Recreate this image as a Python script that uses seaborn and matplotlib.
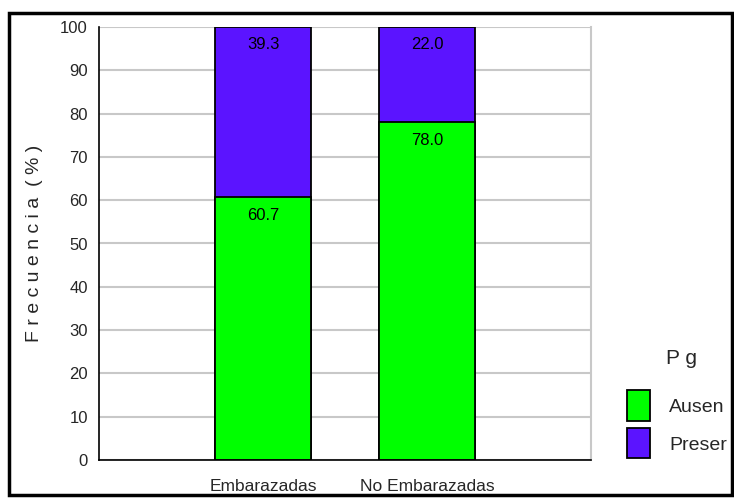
import matplotlib
matplotlib.use("Agg")
import matplotlib.pyplot as plt
import seaborn as sns
import pandas as pd
from matplotlib.patches import Rectangle, Patch

categories = ["Embarazadas", "No Embarazadas"]
ausente = [60.7, 78.0]
presente = [39.3, 22.0]
series_names = ["Ausente", "Presente"]
legend_labels = ["Ausen", "Preser"]
yticks = [0, 10, 20, 30, 40, 50, 60, 70, 80, 90, 100]

green = "#00ff00"
purple = "#5b14ff"

sns.set_theme(style="white")
plt.rcParams["font.family"] = ["Liberation Sans Narrow", "Liberation Sans", "DejaVu Sans"]

fig = plt.figure(figsize=(7.34, 4.98), dpi=100)
ax = fig.add_axes([99/734, 38/498, (591-99)/734, (460-27)/498])

df = pd.DataFrame({"cat": categories, "Ausente": ausente, "Presente": presente})
df["total"] = df["Ausente"] + df["Presente"]

order = categories
sns.barplot(data=df, x="cat", y="total", order=order, color=purple, width=0.58,
            edgecolor="black", linewidth=1.3, ax=ax, saturation=1)
sns.barplot(data=df, x="cat", y="Ausente", order=order, color=green, width=0.58,
            edgecolor="black", linewidth=1.3, ax=ax, saturation=1)

# shift category positions so axis spans 0..3 with bars at 1 and 2
for p in ax.patches:
    p.set_x(p.get_x() + 1)

ax.set_xlim(0, 3)
ax.set_ylim(0, 100)
ax.set_yticks(yticks)
ax.set_yticklabels([str(t) for t in yticks], fontsize=12)
ax.set_xticks([0, 1, 2, 3])
ax.set_xticklabels(["", categories[0], categories[1], ""], fontsize=12.5)
ax.tick_params(axis="both", length=6, width=1.2, color="black", direction="out")
ax.tick_params(axis="x", pad=8)
ax.tick_params(axis="y", pad=2)
ax.set_xlabel("")
ax.set_ylabel("F r e c u e n c i a  ( % )", fontsize=14, labelpad=12)
ax.yaxis.grid(True, color="#c8c8c8", linewidth=1.5)
ax.set_axisbelow(True)
ax.spines["top"].set_visible(False)
ax.spines["right"].set_color("#c8c8c8")
ax.spines["right"].set_linewidth(1.5)
ax.spines["left"].set_color("black")
ax.spines["bottom"].set_color("black")
ax.spines["left"].set_linewidth(1.2)
ax.spines["bottom"].set_linewidth(1.2)

# value labels near the top of each segment
for i, (a, p) in enumerate(zip(ausente, presente)):
    xpos = i + 1
    ax.annotate(f"{p:.1f}", (xpos, a + p), xytext=(0, -7), textcoords="offset points",
                ha="center", va="top", fontsize=12, color="black")
    ax.annotate(f"{a:.1f}", (xpos, a), xytext=(0, -8), textcoords="offset points",
                ha="center", va="top", fontsize=12, color="black")

# legend
handles = [Patch(facecolor=green, edgecolor="black", linewidth=1.3),
           Patch(facecolor=purple, edgecolor="black", linewidth=1.3)]
leg = fig.legend(handles, legend_labels, loc="upper left",
                 bbox_to_anchor=(609/734, 1 - 373/498), frameon=False,
                 fontsize=14, handlelength=1.2, handleheight=2.0,
                 handletextpad=1.0, labelspacing=0.4)
fig.text(682/734, 1 - 358/498, "P g", ha="center", va="center", fontsize=15)

# outer frame
fig.patches.append(Rectangle((9/734, 3/498), (732-9)/734, (485-3)/498,
                             transform=fig.transFigure, fill=False,
                             edgecolor="black", linewidth=2.5))

fig.savefig("out.png", dpi=100)
